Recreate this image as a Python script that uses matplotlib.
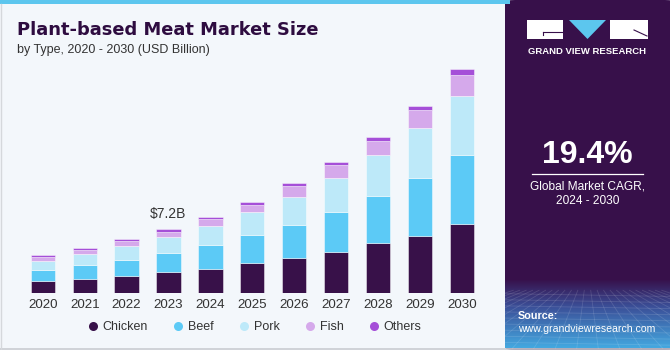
import numpy as np
import matplotlib.pyplot as plt
from matplotlib.patches import Rectangle, Polygon, FancyBboxPatch
from matplotlib.lines import Line2D

# values in USD billion
years = ["2020", "2021", "2022", "2023", "2024", "2025", "2026", "2027", "2028", "2029", "2030"]
chicken = [1.42, 1.61, 1.95, 2.40, 2.73, 3.38, 3.94, 4.65, 5.66, 6.45, 7.76]
beef = [1.24, 1.61, 1.80, 2.17, 2.67, 3.15, 3.78, 4.47, 5.32, 6.56, 7.76]
pork = [0.95, 1.24, 1.58, 1.73, 2.21, 2.66, 3.15, 3.86, 4.58, 5.56, 6.71]
fish = [0.52, 0.38, 0.53, 0.63, 0.75, 0.79, 1.24, 1.43, 1.61, 2.06, 2.36]
others = [0.19, 0.26, 0.26, 0.27, 0.26, 0.34, 0.27, 0.37, 0.42, 0.48, 0.64]

series = ["Chicken", "Beef", "Pork", "Fish", "Others"]
colors = ["#381149", "#5ccaf6", "#bde9f9", "#d5a9eb", "#a54fd8"]

note_year = "2023"
note_text = "$7.2B"
cagr = "19.4%"

W, H = 670, 350
BG = "#f3f7fb"
PANEL = "#37104a"


def fx(px):
    return px / W


def fy(py):
    return 1 - py / H


fig = plt.figure(figsize=(6.7, 3.5), dpi=100, facecolor=BG)
plt.rcParams["font.family"] = ["Liberation Sans", "DejaVu Sans"]

# frame bits: top cyan strip, grey border
fig.add_artist(Rectangle((0, fy(4)), fx(510), 4 / H, transform=fig.transFigure,
                         color="#5cc6ee", lw=0))
fig.add_artist(Line2D([0, 1], [fy(349), fy(349)], transform=fig.transFigure,
                      color="#c9ccd1", lw=1.2))
fig.add_artist(Line2D([fx(0.8), fx(0.8)], [fy(4), fy(349)], transform=fig.transFigure,
                      color="#d5d8dc", lw=1))

# right panel
fig.add_artist(FancyBboxPatch((fx(505), 0), fx(170), 1.0, transform=fig.transFigure,
                              boxstyle="round,pad=0,rounding_size=0.015",
                              facecolor=PANEL, edgecolor="none", mutation_aspect=H / W,
                              zorder=0.5))

# gradient at bottom of panel, with a faint mesh
gax = fig.add_axes([fx(505), fy(348.5), fx(165), (348.5 - 280) / H], zorder=2)
top_c = np.array([0x37, 0x10, 0x4a]) / 255
mid_c = np.array([0x3b, 0x4f, 0x98]) / 255
bot_c = np.array([0x44, 0xa8, 0xe0]) / 255
rows = []
for g in np.linspace(0, 1, 120):
    if g < 0.4:
        rows.append(top_c + (mid_c - top_c) * g / 0.4)
    else:
        rows.append(mid_c + (bot_c - mid_c) * (g - 0.4) / 0.6)
gax.imshow(np.array(rows)[:, None, :], aspect="auto", extent=[0, 1, 1, 0])
for k in np.linspace(-1.0, 2.0, 24):
    gax.plot([0.5 + (k - 0.5) * 0.3, k], [0.15, 1.0], color="white", alpha=0.13, lw=0.6)
for v in np.linspace(0.2, 1.0, 10):
    gax.plot([0, 1], [v, v + 0.04], color="white", alpha=0.13, lw=0.6)
gax.set_xlim(0, 1)
gax.set_ylim(1, 0)
gax.axis("off")

# logo
fig.add_artist(Rectangle((fx(527), fy(39)), fx(36), 19 / H, transform=fig.transFigure,
                         color="white", lw=0))
fig.add_artist(Rectangle((fx(610), fy(39)), fx(38), 19 / H, transform=fig.transFigure,
                         color="white", lw=0))
fig.add_artist(Polygon([(fx(569), fy(20)), (fx(606), fy(20)), (fx(587.5), fy(39))],
                       closed=True, transform=fig.transFigure, color="#5cc6ee", lw=0))
fig.add_artist(Line2D([fx(543), fx(563)], [fy(32), fy(32)], transform=fig.transFigure,
                      color=PANEL, lw=0.8))
fig.add_artist(Line2D([fx(543), fx(543)], [fy(32), fy(35)], transform=fig.transFigure,
                      color=PANEL, lw=0.8))
fig.add_artist(Line2D([fx(634), fx(647)], [fy(30), fy(36)], transform=fig.transFigure,
                      color=PANEL, lw=0.8))
fig.text(fx(587.5), fy(51), "GRAND VIEW RESEARCH", color="white", fontsize=6.8,
         fontweight="bold", ha="center", va="center")

fig.text(fx(587.5), fy(155), cagr, color="white", fontsize=23, fontweight="bold",
         ha="center", va="center")
fig.add_artist(Line2D([fx(532), fx(643)], [fy(173.5), fy(173.5)], transform=fig.transFigure,
                      color="white", lw=0.9))
fig.text(fx(587.5), fy(186), "Global Market CAGR,", color="white", fontsize=8.6,
         ha="center", va="center")
fig.text(fx(587.5), fy(201), "2024 - 2030", color="white", fontsize=8.6,
         ha="center", va="center")
fig.text(fx(518), fy(316), "Source:", color="white", fontsize=7.8, fontweight="bold",
         ha="left", va="center", zorder=3)
fig.text(fx(518), fy(329.5), "www.grandviewresearch.com", color="white", fontsize=7.6,
         ha="left", va="center", zorder=3)

# titles
fig.text(fx(17), fy(30), "Plant-based Meat Market Size", color="#2e0c40", fontsize=12.9,
         fontweight="bold", ha="left", va="center", family="DejaVu Sans")
fig.text(fx(17), fy(50), "by Type, 2020 - 2030 (USD Billion)", color="#333333", fontsize=9,
         ha="left", va="center")

# bars
ax = fig.add_axes([fx(20), fy(293.3), fx(465), (293.3 - 60) / H])
ax.set_facecolor("none")
x = np.arange(len(years))
bottom = np.zeros(len(years))
for name, vals, c in zip(series, [chicken, beef, pork, fish, others], colors):
    ax.bar(x, vals, width=0.58, bottom=bottom, color=c, label=name,
           edgecolor=(1, 1, 1, 0.45), linewidth=0.7)
    bottom += np.array(vals)

i = years.index(note_year)
ax.text(x[i], bottom[i] + 0.9, note_text, ha="center", va="bottom", fontsize=10, color="#333333")

ax.set_xlim(-0.544, 10.554)
ax.set_ylim(0, 26.25)
ax.set_xticks(x)
ax.set_xticklabels(years, fontsize=9.6, color="#333333")
ax.tick_params(axis="x", length=0, pad=4)
ax.set_yticks([])
for s in ax.spines.values():
    s.set_visible(False)

handles = [Line2D([], [], marker="o", linestyle="", markersize=6.5, markerfacecolor=c,
                  markeredgecolor="none", label=n) for n, c in zip(series, colors)]
fig.legend(handles=handles, loc="center", bbox_to_anchor=(fx(254), fy(327.5)), ncol=5,
           frameon=False, fontsize=9, handletextpad=0.3, columnspacing=1.9,
           handlelength=1.0, labelcolor="#333333")

fig.savefig("out.png", dpi=100, facecolor=BG)
